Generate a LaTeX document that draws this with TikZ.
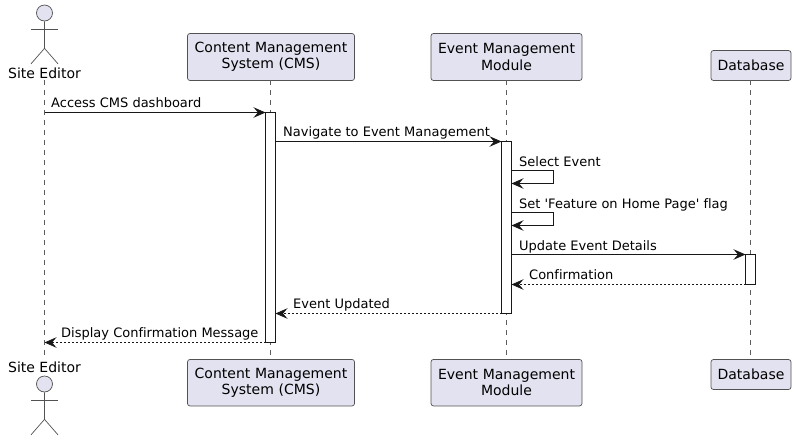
\documentclass[tikz,border=0pt]{standalone}
\usepackage{fontspec}
\newfontfamily\umlfont{DejaVu Sans}[Ligatures=NoCommon]
\usetikzlibrary{arrows.meta,calc}
\definecolor{partfill}{HTML}{E2E2F0}
\definecolor{umlline}{HTML}{181818}
\tikzset{
  part/.style={draw=umlline!75,fill=partfill,line width=0.7pt,rounded corners=2.5pt,align=center,
    inner sep=0pt,minimum height=#1,font=\umlfont\fontsize{14}{16.5}\selectfont},
  part/.default=47pt,
  bar/.style={draw=umlline,fill=white,line width=0.9pt,minimum width=10pt,inner sep=0pt,outer sep=0pt,minimum height=#1},
  life/.style={draw=umlline!70,line width=0.6pt,dash pattern=on 5pt off 5pt},
  msg/.style={draw=umlline,line width=0.85pt,-{Stealth[length=12pt,width=10.5pt,inset=4.5pt]}},
  reply/.style={msg,line width=0.75pt,dash pattern=on 2pt off 2pt},
  txt/.style={font=\umlfont\fontsize{13}{15}\selectfont,inner sep=0pt,anchor=base west},
  actorlabel/.style={font=\umlfont\fontsize{14}{16}\selectfont,inner sep=0pt,anchor=base}
}
\begin{document}
\begin{tikzpicture}[x=1pt,y=-1pt]
\useasboundingbox (0,0) rectangle (796,440);
% participants
\node [part,text width=167pt] (cmstop) at (271,57) {Content Management\\System (CMS)};
\node [part,text width=151pt] (evttop) at (506.5,57) {Event Management\\Module};
\node [part=30pt,text width=80pt] (dbtop) at (751,65.5) {Database};
\node [part=46.5pt,text width=167pt] (cmsbot) at (271,382.7) {Content Management\\System (CMS)};
\node [part=46.5pt,text width=151pt] (evtbot) at (506.5,382.7) {Event Management\\Module};
\node [part=30pt,text width=80pt] (dbbot) at (751,374.5) {Database};
\coordinate (edtop) at (44.5,80);
\coordinate (edbot) at (44.5,359);
\node [actorlabel] (edlabeltop) at (44.5,78) {Site Editor};
\node [actorlabel] (edlabelbot) at (44.5,372) {Site Editor};
% lifelines
\coordinate (cmsline) at (270.5,80);
\coordinate (evtline) at (506.5,80);
\coordinate (dbline) at (750.5,80);
\draw [life] (edtop) -- (edbot);
\draw [life] (cmsline) -- (cmsline |- cmsbot.north);
\draw [life] (evtline) -- (evtline |- evtbot.north);
\draw [life] (dbline) -- (dbline |- dbbot.north);
% actors
\foreach \y/\name in {13/edheadtop,384/edheadbot}{
  \node [circle,draw=umlline!75,fill=partfill,line width=0.7pt,minimum size=16pt,inner sep=0pt] (\name) at (44.5,\y) {};
  \draw [umlline!75,line width=0.7pt] (\name.south) -- ++(0,27) -- ++(-13.5,15.5) ++(13.5,-15.5) -- ++(13.5,15.5);
  \draw [umlline!75,line width=0.7pt] ($(\name.south)+(-13.5,8.2)$) -- ++(27,0);
}
% activation bars
\node [bar=230pt] (cmsbar) at (270.5,227.5) {};
\node [bar=172pt] (evtbar) at (506.5,227.5) {};
\node [bar=30pt] (dbbar) at (750.5,269.5) {};
% messages
\coordinate (ed1) at (44.5,112.5);
\coordinate (ed2) at (44.5,342.5);
\coordinate (s1) at (511.5,170.5);
\coordinate (s2) at (553.5,170.5);
\coordinate (s3) at (553.5,183.5);
\coordinate (s4) at (511.5,183.5);
\coordinate (f1) at (511.5,212.5);
\coordinate (f2) at (553.5,212.5);
\coordinate (f3) at (553.5,225.5);
\coordinate (f4) at (511.5,225.5);
\draw [msg] (ed1) -- (cmsbar.north west);
\draw [msg] ($(cmsbar.east)+(0,-86)$) -- (evtbar.north west);
\draw [msg] (s1) -- (s2) -- (s3) -- (s4);
\draw [msg] (f1) -- (f2) -- (f3) -- (f4);
\draw [msg] ($(evtbar.east)+(0,27)$) -- (dbbar.north west);
\draw [reply] (dbbar.south west) -- ($(evtbar.east)+(0,57)$);
\draw [reply] (evtbar.south west) -- ($(cmsbar.east)+(0,86)$);
\draw [reply] (cmsbar.south west) -- (ed2);
% labels
\node [txt] (t1) at (51,107.5) {Access CMS dashboard};
\node [txt] (t2) at (283,136) {Navigate to Event Management};
\node [txt] (t3) at (519,166) {Select Event};
\node [txt] (t4) at (519,208) {Set 'Feature on Home Page' flag};
\node [txt] (t5) at (519,250) {Update Event Details};
\node [txt] (t6) at (529,279) {Confirmation};
\node [txt] (t7) at (293,308) {Event Updated};
\node [txt] (t8) at (61,337) {Display Confirmation Message};
\end{tikzpicture}
\end{document}
